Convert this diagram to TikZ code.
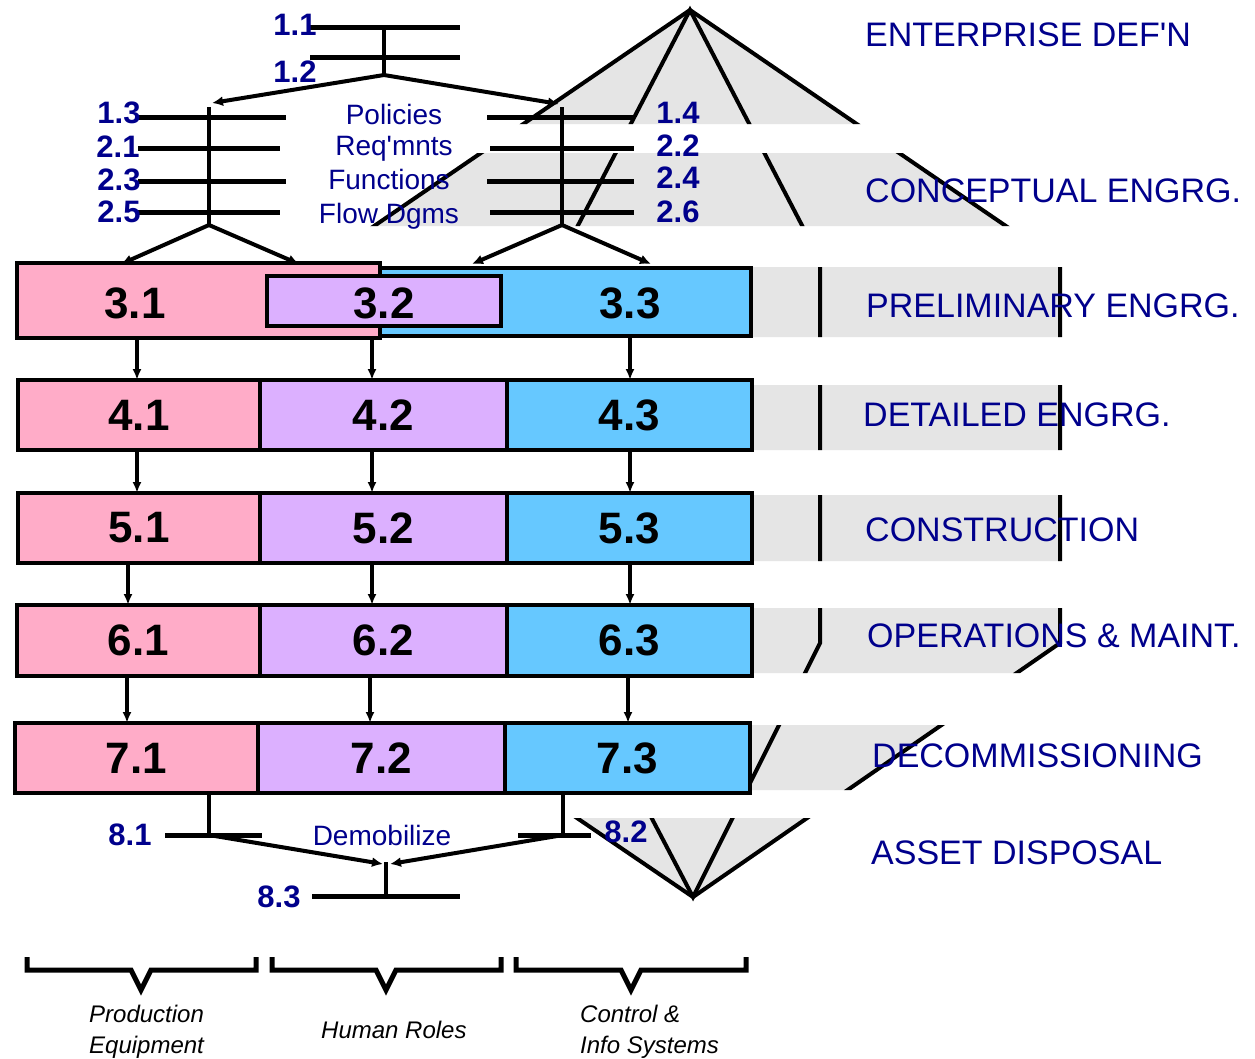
\documentclass[tikz,border=0pt]{standalone}
\usepackage{fontspec}
\setmainfont{Liberation Sans}[Ligatures=TeXOff]
\usetikzlibrary{arrows.meta,calc}
\definecolor{navy}{RGB}{0,0,140}
\definecolor{pinkc}{RGB}{255,172,200}
\definecolor{lilac}{RGB}{220,176,255}
\definecolor{skyc}{RGB}{102,200,255}
\definecolor{bandgray}{RGB}{229,229,229}
\begin{document}
\begin{tikzpicture}[x=1pt,y=-1pt,
  phase/.style={anchor=base west,text=navy,font=\fontsize{34}{40}\selectfont,inner sep=0},
  num/.style={text=navy,font=\bfseries\fontsize{31}{36}\selectfont,inner sep=0},
  doc/.style={text=navy,font=\fontsize{28}{32}\selectfont,anchor=base,inner sep=0},
  cat/.style={font=\itshape\fontsize{24}{32}\selectfont,anchor=base west,inner sep=0},
  box/.style={draw,line width=4.5pt,inner sep=0,outer sep=0,font=\bfseries\fontsize{44}{50}\selectfont},
  big/.style={font=\bfseries\fontsize{44}{50}\selectfont,inner sep=0},
  tree/.style={line width=5pt},
  stem/.style={line width=4pt},
  conn/.style={line width=4pt,-{Latex[length=11pt,width=10pt]}},
  varr/.style={line width=3.5pt,-{Latex[length=11pt,width=9pt]}},
  pyr/.style={line width=4pt,line join=miter},
  brace/.style={line width=5pt,line join=miter}]

\useasboundingbox (0,0) rectangle (1255,1058);
\fill[white] (0,0) rectangle (1255,1058);

% life-cycle outline, shown only inside the phase bands
\begin{scope}
  \clip (0,0) rectangle (1255,124)
        (0,153) rectangle (1255,226)
        (0,267) rectangle (1255,337)
        (0,385) rectangle (1255,450)
        (0,495) rectangle (1255,561)
        (0,608) rectangle (1255,673)
        (0,725) rectangle (1255,790)
        (0,818) rectangle (1255,910);
  \fill[bandgray] (690,10) -- (1060,263) -- (1060,643) -- (693,897)
                  -- (320,643) -- (320,263) -- cycle;
  \draw[pyr] (690,10) -- (1060,263) -- (1060,643) -- (693,897)
             -- (320,643) -- (320,263) -- cycle;
  \draw[pyr] (690,10) -- (820,260) -- (820,643) -- (693,897)
             -- (560,643) -- (560,260) -- cycle;
\end{scope}

% row 3 : preliminary engineering
\node[box,fill=skyc,minimum width=371,minimum height=68] (b33) at (565.5,302) {};
\node[box,fill=pinkc,minimum width=363,minimum height=75] (b31) at (198.5,300.5) {};
\node[box,fill=lilac,minimum width=234,minimum height=50] (b32) at (384,301) {};
\node[big] at (135,303) {3.1};
\node[big] at (384,303) {3.2};
\node[big] at (630,303) {3.3};

% rows 4 to 7
\node[box,fill=pinkc,minimum width=242,minimum height=70] (b41) at (139,415) {4.1};
\node[box,fill=lilac,minimum width=247,minimum height=70] (b42) at (383.5,415) {4.2};
\node[box,fill=skyc,minimum width=245,minimum height=70] (b43) at (629.5,415) {4.3};

\node[box,fill=pinkc,minimum width=242,minimum height=70] (b51) at (139,528) {5.1};
\node[box,fill=lilac,minimum width=247,minimum height=70] (b52) at (383.5,528) {5.2};
\node[box,fill=skyc,minimum width=245,minimum height=70] (b53) at (629.5,528) {5.3};

\node[box,fill=pinkc,minimum width=243,minimum height=71] (b61) at (138.5,640.5) {6.1};
\node[box,fill=lilac,minimum width=247,minimum height=71] (b62) at (383.5,640.5) {6.2};
\node[box,fill=skyc,minimum width=245,minimum height=71] (b63) at (629.5,640.5) {6.3};

\node[box,fill=pinkc,minimum width=243,minimum height=70] (b71) at (136.5,758) {7.1};
\node[box,fill=lilac,minimum width=247,minimum height=70] (b72) at (381.5,758) {7.2};
\node[box,fill=skyc,minimum width=245,minimum height=70] (b73) at (627.5,758) {7.3};

% flow between rows
\draw[varr] (b31.south -| 137,0) -- (b41.north -| 137,0);
\draw[varr] (b31.south -| 372,0) -- (b42.north -| 372,0);
\draw[varr] (b33.south -| 630,0) -- (b43.north -| 630,0);
\draw[varr] (b41.south -| 137,0) -- (b51.north -| 137,0);
\draw[varr] (b42.south -| 372,0) -- (b52.north -| 372,0);
\draw[varr] (b43.south -| 630,0) -- (b53.north -| 630,0);
\draw[varr] (b51.south -| 128,0) -- (b61.north -| 128,0);
\draw[varr] (b52.south -| 372,0) -- (b62.north -| 372,0);
\draw[varr] (b53.south -| 630,0) -- (b63.north -| 630,0);
\draw[varr] (b61.south -| 127,0) -- (b71.north -| 127,0);
\draw[varr] (b62.south -| 370,0) -- (b72.north -| 370,0);
\draw[varr] (b63.south -| 628,0) -- (b73.north -| 628,0);

% enterprise definition tree
\coordinate (t11a) at (310,27);  \coordinate (t11b) at (460,27);
\coordinate (t12a) at (310,57);  \coordinate (t12b) at (460,57);
\coordinate (ttop) at (384,27);  \coordinate (tjoin) at (384,75);
\coordinate (lt) at (209,107);   \coordinate (lj) at (209,225);
\coordinate (rt) at (562,107);   \coordinate (rj) at (562,225);
\draw[tree] (t11a) -- (t11b);
\draw[tree] (t12a) -- (t12b);
\draw[stem] (ttop) -- (tjoin);
\draw[conn] (tjoin) -- (212,103);
\draw[conn] (tjoin) -- (559,104);

% conceptual trees
\draw[stem] (lt) -- (lj);
\draw[stem] (rt) -- (rj);
\foreach \y/\e in {117/286,148/280,181/286,212/280}
  \draw[tree] (138,\y) -- (\e,\y);
\foreach \y/\s in {117/487,148/490,181/487,212/490}
  \draw[tree] (\s,\y) -- (634,\y);
\draw[conn] (lj) -- (121,264);
\draw[conn] (lj) -- (299,264);
\draw[conn] (rj) -- (472,264);
\draw[conn] (rj) -- (651,264);

% asset disposal tree
\coordinate (d1) at (209,835);
\coordinate (d2) at (563,835);
\coordinate (d3) at (386,862);
\coordinate (d3b) at (386,896);
\draw[stem] (b71.south -| d1) -- (d1);
\draw[stem] (b73.south -| d2) -- (d2);
\draw[tree] (165,835) -- (262,835);
\draw[tree] (518,835) -- (591,835);
\draw[conn] (d1) -- (383,864);
\draw[conn] (d2) -- (390,864);
\draw[stem] (d3) -- (d3b);
\draw[tree] (312,896) -- (460,896);

% activity numbers
\node[num] (n11) at (295,25) {1.1};
\node[num] (n12) at (295,72) {1.2};
\node[num] (n13) at (119,113) {1.3};
\node[num] (n21) at (118,147) {2.1};
\node[num] (n23) at (119,180) {2.3};
\node[num] (n25) at (119,212) {2.5};
\node[num] (n14) at (678,113) {1.4};
\node[num] (n22) at (678,146) {2.2};
\node[num] (n24) at (678,178) {2.4};
\node[num] (n26) at (678,212) {2.6};
\node[num] (n81) at (130,835) {8.1};
\node[num] (n82) at (626,832) {8.2};
\node[num] (n83) at (279,897) {8.3};

% deliverables
\node[doc] at (394,124) {Policies};
\node[doc] at (394,155) {Req'mnts};
\node[doc] at (389,189) {Functions};
\node[doc] at (389,223) {Flow Dgms};
\node[doc] at (382,845) {Demobilize};

% phases
\node[phase] at (865,46) {ENTERPRISE DEF'N};
\node[phase] at (865,202) {CONCEPTUAL ENGRG.};
\node[phase] at (866,317) {PRELIMINARY ENGRG.};
\node[phase] at (863,426) {DETAILED ENGRG.};
\node[phase] at (865,541) {CONSTRUCTION};
\node[phase] at (867,647) {OPERATIONS \& MAINT.};
\node[phase] at (872,767) {DECOMMISSIONING};
\node[phase] at (871,864) {ASSET DISPOSAL};

% streams
\draw[brace] (27,957) -- (27,970) -- (131,970) -- (141,990) -- (151,970) -- (256,970) -- (256,957);
\draw[brace] (272,957) -- (272,970) -- (376,970) -- (386,990) -- (396,970) -- (501,970) -- (501,957);
\draw[brace] (516,957) -- (516,970) -- (621,970) -- (631,990) -- (641,970) -- (746,970) -- (746,957);
\node[cat] at (89,1022) {Production};
\node[cat] at (89,1053) {Equipment};
\node[cat] at (321,1038) {Human Roles};
\node[cat] at (580,1022) {Control \&};
\node[cat] at (580,1053) {Info Systems};
\end{tikzpicture}
\end{document}
